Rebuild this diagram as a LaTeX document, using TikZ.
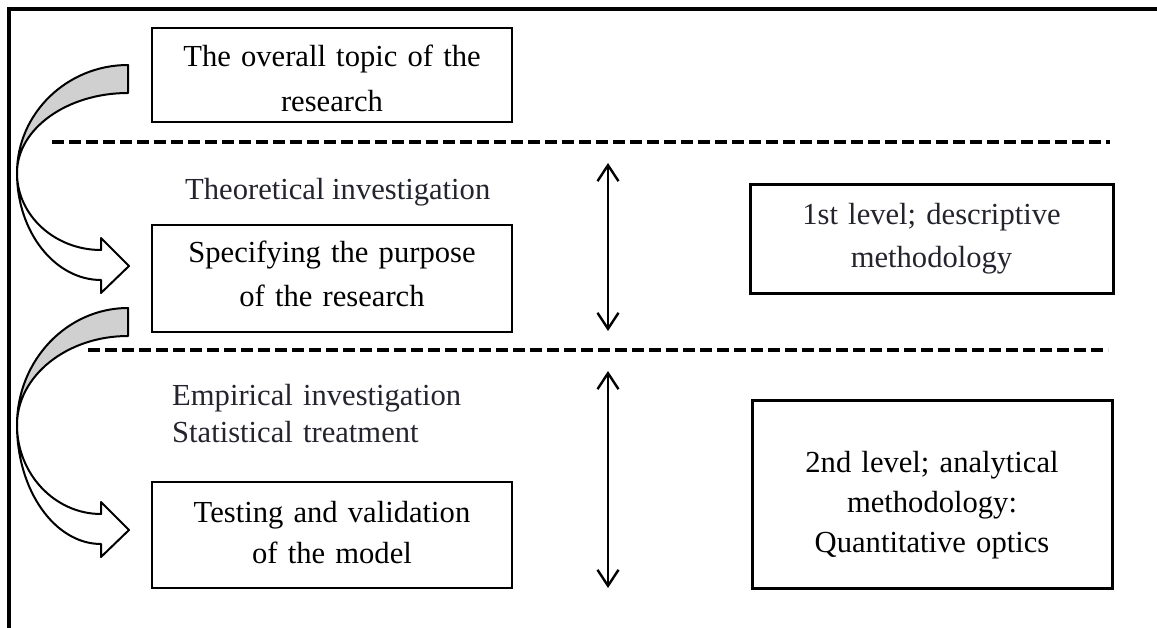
\documentclass[tikz,border=0pt]{standalone}
\usepackage{fontspec}
\setmainfont{Liberation Serif}
\usetikzlibrary{arrows.meta}
\definecolor{bandgray}{HTML}{D0D0D0}
\definecolor{labelink}{HTML}{24242E}
\tikzset{
  stepbox/.style={draw, line width=2.4pt, inner sep=0pt},
  levelbox/.style={draw, line width=3pt, inner sep=0pt},
  boxtext/.style={inner sep=0pt, anchor=base, align=center},
  sidelabel/.style={inner sep=0pt, text=labelink},
  frameline/.style={line width=4pt},
  sepline/.style={line width=3.4pt, dash pattern=on 12pt off 5pt},
  span/.style={line width=2.4pt, {Straight Barb[length=16pt,width=21pt]}-{Straight Barb[length=16pt,width=21pt]}},
  band/.style={line width=2pt, line join=round}
}
% folded curved arrow: #1 top of band, #2 fold point, #3 tip height
\newcommand\foldarrow[3]{%
  \filldraw[band, fill=bandgray] (128,#1)
    .. controls (67,#1) and (17,{#2-0.552*(#2-#1)}) .. (17,#2)
    .. controls (17,{#2-0.552*(#2-#1-28)}) and (67,{#1+28}) .. (128,{#1+28}) -- cycle;
  \filldraw[band, fill=white] (17,#2)
    .. controls (17,{#2+0.552*(#3-16-#2)}) and (55,{#3-16}) .. (101,{#3-16})
    -- (101,{#3-28}) -- (129,#3) -- (101,{#3+27}) -- (101,{#3+14})
    .. controls (55,{#3+14}) and (17,{#2+0.552*(#3+14-#2)}) .. (17,#2) -- cycle;
}
\begin{document}
\begin{tikzpicture}[x=1pt, y=-1pt]
\useasboundingbox (0,0) rectangle (1157,628);
\fontsize{30.6pt}{37pt}\selectfont

% outer frame (left and top only)
\draw[frameline] (9,628) -- (9,9) -- (1157,9);

% separators between the levels
\coordinate (sepAw) at (52,142);
\coordinate (sepAe) at (1110,142);
\coordinate (sepBw) at (88,350);
\coordinate (sepBe) at (1108,350);
\draw[sepline] (sepAw) -- (sepAe);
\draw[sepline] (sepBw) -- (sepBe);

% boxes of the research steps
\node[stepbox, minimum width=360pt, minimum height=94pt] (topic) at (332,75) {};
\node[boxtext, text width=360pt, font=\fontsize{30.6pt}{45pt}\selectfont] (topictext) at (332,67)
  {The overall topic of the\\research};

\node[stepbox, minimum width=360pt, minimum height=107pt] (purpose) at (332,278.5) {};
\node[boxtext, text width=360pt, font=\fontsize{30.6pt}{44pt}\selectfont] (purposetext) at (332,263)
  {Specifying the purpose\\of the research};

\node[stepbox, minimum width=360pt, minimum height=106pt] (testing) at (332,535) {};
\node[boxtext, text width=360pt, font=\fontsize{30.6pt}{41pt}\selectfont] (testingtext) at (332,522)
  {Testing and validation\\of the model};

% investigation labels
\node[sidelabel, anchor=base west] (theory) at (185,200) {Theoretical investigation};
\node[sidelabel, anchor=base west, text width=330pt, align=left,
      font=\fontsize{30.6pt}{37pt}\selectfont] (empiric) at (172,405)
  {Empirical investigation\\Statistical treatment};

% level boxes
\node[levelbox, minimum width=363pt, minimum height=109pt] (level1) at (931.5,239.5) {};
\node[boxtext, text width=363pt, text=labelink, font=\fontsize{30.6pt}{43pt}\selectfont] (level1text) at (931.5,225)
  {1st level; descriptive\\methodology};

\node[levelbox, minimum width=360pt, minimum height=188pt] (level2) at (932,494) {};
\node[boxtext, text width=360pt, font=\fontsize{30.6pt}{40pt}\selectfont] (level2text) at (932,472)
  {2nd level; analytical\\methodology:\\Quantitative optics};

% extent of each level
\coordinate (spanAt) at (608,163);
\coordinate (spanAb) at (608,331);
\coordinate (spanBt) at (608,371);
\coordinate (spanBb) at (608,588);
\draw[span] (spanAt) -- (spanAb);
\draw[span] (spanBt) -- (spanBb);

% folded arrows leading from step to step
\foldarrow{65}{173}{266}
\foldarrow{308}{425}{530}
\end{tikzpicture}
\end{document}
